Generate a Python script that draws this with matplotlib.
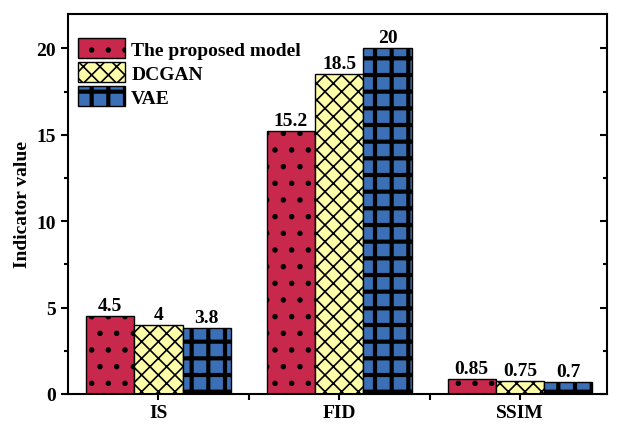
import numpy as np
import matplotlib
matplotlib.use('Agg')
import matplotlib.pyplot as plt
import matplotlib.markers as mmarkers
from matplotlib.ticker import MultipleLocator, FixedLocator

plt.rcParams['font.family'] = ['Liberation Serif', 'DejaVu Serif']
plt.rcParams['font.weight'] = 'bold'
plt.rcParams['hatch.linewidth'] = 1.3

metricas = ['IS', 'FID', 'SSIM']
modelos = ['The proposed model', 'DCGAN', 'VAE']
valores_propuesto = [4.5, 15.2, 0.85]
valores_dcgan = [4, 18.5, 0.75]
valores_vae = [3.8, 20, 0.7]
etiquetas = [['4.5', '15.2', '0.85'], ['4', '18.5', '0.75'], ['3.8', '20', '0.7']]

colores = ['#C8284B', '#FFFFAA', '#3B6FB6']
tramas = ['.', 'xx', '+']
grosor_trama = [1.5, 1.2, 3.0]

fig = plt.figure(figsize=(6.18, 4.27), dpi=100)
ax = fig.add_axes([0.110, 0.075, 0.872, 0.890])

x = np.arange(len(metricas))
w = 0.267
series = [valores_propuesto, valores_dcgan, valores_vae]
for i, (vals, nombre) in enumerate(zip(series, modelos)):
    pos = x + (i - 1) * w
    barras = ax.bar(pos, vals, w, color=colores[i], edgecolor='black', hatch=tramas[i],
                    linewidth=1.0, label=nombre)
    for b in barras:
        if hasattr(b, 'set_hatch_linewidth'):
            b.set_hatch_linewidth(grosor_trama[i])
    for p, v, t in zip(pos, vals, etiquetas[i]):
        ax.text(p, v + 0.12, t, ha='center', va='bottom', fontsize=14, fontweight='bold')

ax.set_xlim(-0.5, 2.48)
ax.set_ylim(0, 22)
ax.set_xticks(x)
ax.set_xticklabels(metricas, fontsize=14, fontweight='bold')
ax.xaxis.set_minor_locator(FixedLocator([0.5, 1.5]))
ax.yaxis.set_major_locator(MultipleLocator(5))
ax.yaxis.set_minor_locator(MultipleLocator(2.5))
ax.tick_params(axis='y', which='both', direction='out', right=True, labelsize=14, width=1.5)
ax.tick_params(axis='y', which='major', length=5)
ax.tick_params(axis='y', which='minor', length=3)
ax.tick_params(axis='x', which='both', direction='out', width=1.5, length=4)
for lbl in ax.get_yticklabels():
    lbl.set_fontweight('bold')
# ticks de la derecha hacia dentro
for t in ax.yaxis.get_major_ticks() + ax.yaxis.get_minor_ticks():
    t.tick2line.set_marker(mmarkers.TICKLEFT)

for s in ax.spines.values():
    s.set_linewidth(1.5)

ax.set_ylabel('Indicator value', fontsize=14, fontweight='bold', labelpad=4)

leg = ax.legend(loc='upper left', bbox_to_anchor=(0.0, 0.962), frameon=False,
                handlelength=2.45, handleheight=1.2, labelspacing=0.18, handletextpad=0.3,
                borderaxespad=0.1, borderpad=0.4, prop={'weight': 'bold', 'size': 14})
for h, g in zip(leg.legend_handles, grosor_trama):
    if hasattr(h, 'set_hatch_linewidth'):
        h.set_hatch_linewidth(g)

fig.savefig('out.png', dpi=100)
